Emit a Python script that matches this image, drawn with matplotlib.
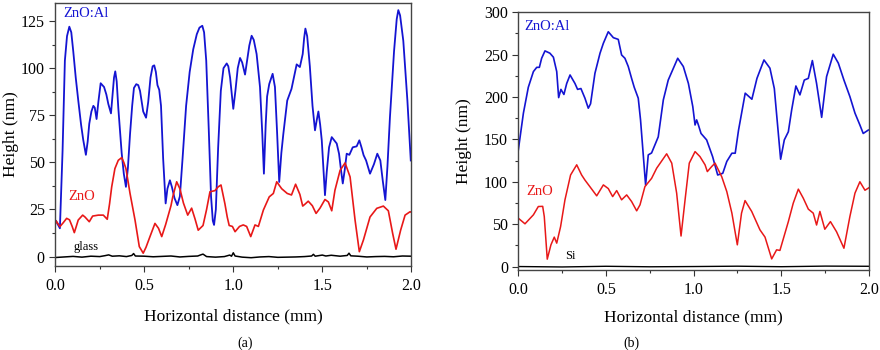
import matplotlib
matplotlib.use('Agg')
import matplotlib.pyplot as plt
from matplotlib.ticker import MultipleLocator

plt.rcParams['font.family'] = ['Liberation Serif', 'DejaVu Serif']

# (a) glass substrate: ZnO:Al, ZnO and bare glass profiles (x in mm, height in nm)
a_zao_x = [0.0, 0.004, 0.026, 0.041, 0.054, 0.066, 0.079, 0.09, 0.101, 0.115, 0.129, 0.145, 0.157,
           0.172, 0.182, 0.191, 0.203, 0.214, 0.222, 0.232, 0.242, 0.255, 0.274, 0.287, 0.298,
           0.313, 0.322, 0.33, 0.337, 0.345, 0.354, 0.373, 0.385, 0.397, 0.408, 0.42, 0.432,
           0.442, 0.455, 0.466, 0.476, 0.494, 0.51, 0.522, 0.535, 0.547, 0.556, 0.565, 0.574,
           0.584, 0.594, 0.606, 0.62, 0.63, 0.644, 0.655, 0.67, 0.686, 0.70, 0.715, 0.735,
           0.755, 0.775, 0.795, 0.81, 0.826, 0.836, 0.848, 0.862, 0.875, 0.885, 0.892, 0.902,
           0.915, 0.93, 0.945, 0.963, 0.972, 0.982, 1.0, 1.012, 1.025, 1.038, 1.05, 1.066,
           1.076, 1.09, 1.103, 1.115, 1.131, 1.15, 1.163, 1.172, 1.182, 1.19, 1.202, 1.221,
           1.234, 1.246, 1.258, 1.27, 1.281, 1.303, 1.327, 1.345, 1.356, 1.374, 1.39, 1.398,
           1.405, 1.415, 1.43, 1.445, 1.459, 1.468, 1.478, 1.488, 1.497, 1.507, 1.515, 1.525,
           1.538, 1.553, 1.581, 1.594, 1.605, 1.615, 1.626, 1.637, 1.652, 1.671, 1.693, 1.708,
           1.72, 1.732, 1.746, 1.768, 1.79, 1.809, 1.826, 1.84, 1.854, 1.866, 1.88, 1.903,
           1.918, 1.927, 1.937, 1.955, 1.978, 1.997]
a_zao_y = [19, 19, 15, 56, 104, 117, 122, 119, 109, 95, 83, 70, 62,
           54, 61, 70.5, 77, 80, 79, 73, 82, 92, 90, 86, 81,
           76, 86, 95, 98.3, 93, 79, 55, 44, 37, 47, 65, 80,
           89.5, 91.5, 91, 88, 77, 73.7, 82, 95, 101, 101.5, 98, 91,
           88.5, 80, 52, 28.2, 36, 40.5, 37, 31, 27.3, 32, 52, 80,
           98, 110, 118, 121.5, 122.5, 119, 104, 68, 32, 19, 16.8, 25,
           58, 88, 100, 102.5, 101, 95, 78.4, 88, 100, 105.4, 103, 96.6,
           103, 112, 117.2, 115, 107.5, 90, 65, 44, 70, 85, 91.6, 97,
           90, 66, 39.6, 55, 65, 82.8, 89, 97, 102, 100.6, 107.5, 116,
           121, 117, 101, 80, 67, 72, 77, 70, 61.7, 45, 32.6, 45,
           58, 63.4, 60, 54.6, 46, 38.8, 46, 54.6, 54, 58, 58.5, 61.7,
           58, 53.8, 51, 44, 49, 54.6, 51, 40, 30, 48, 74, 109,
           126, 130.8, 128, 114.5, 82.8, 51]

a_zno_x = [0.0, 0.004, 0.026, 0.045, 0.064, 0.08, 0.095, 0.107, 0.118, 0.129, 0.154, 0.167, 0.191,
           0.21, 0.242, 0.27, 0.292, 0.305, 0.317, 0.335, 0.354, 0.373, 0.385, 0.397, 0.42,
           0.448, 0.472, 0.494, 0.51, 0.532, 0.56, 0.58, 0.598, 0.62, 0.65, 0.66, 0.682,
           0.70, 0.72, 0.744, 0.766, 0.785, 0.803, 0.83, 0.85, 0.869, 0.897, 0.915, 0.931,
           0.953, 0.966, 0.977, 0.995, 1.01, 1.035, 1.056, 1.075, 1.098, 1.122, 1.141, 1.169,
           1.202, 1.225, 1.244, 1.272, 1.303, 1.327, 1.35, 1.374, 1.39, 1.405, 1.421, 1.444,
           1.465, 1.487, 1.515, 1.534, 1.553, 1.571, 1.6, 1.628, 1.656, 1.684, 1.708, 1.731,
           1.768, 1.806, 1.843, 1.871, 1.895, 1.914, 1.94, 1.965, 1.993, 2.0]
a_zno_y = [17, 19, 15.9, 18, 20.3, 19.5, 16, 12.7, 16, 19.4, 22, 21, 18.5,
           21.5, 22, 22, 19.8, 28, 37, 46.7, 51.1, 52.5, 50, 46.7, 33.5,
           19.4, 5.3, 1.8, 5, 10.6, 17.6, 15, 10.6, 17, 27, 31.7, 39.7,
           36, 28.4, 22, 25.7, 20, 14, 16.5, 25, 34.4, 35, 37, 38,
           28, 21, 16.5, 16, 13.2, 16, 16.8, 16, 10.6, 16.8, 16, 24.7,
           31.7, 33.5, 39.7, 36, 33.5, 32.7, 38.4, 33, 26.8, 28, 29.4, 27,
           22.9, 25.7, 30.3, 29, 24.3, 35.2, 45.8, 49.7, 42.3, 19.4, 2.6, 8.8,
           21, 25.6, 26.8, 24.3, 12.4, 3.9, 14, 22, 23.8, 23.5]

a_glass_x = [0, 0.05, 0.1, 0.15, 0.2, 0.25, 0.28, 0.3, 0.32, 0.36, 0.4, 0.43, 0.44, 0.45, 0.5,
             0.55, 0.6, 0.65, 0.7, 0.75, 0.8, 0.82, 0.83, 0.85, 0.9, 0.95, 0.98, 0.99, 1.0,
             1.01, 1.05, 1.1, 1.15, 1.2, 1.25, 1.3, 1.35, 1.4, 1.44, 1.45, 1.46, 1.5, 1.52,
             1.55, 1.6, 1.64, 1.65, 1.66, 1.7, 1.75, 1.8, 1.85, 1.9, 1.95, 2.0]
a_glass_y = [-0.5, -0.2, 0.1, -0.3, 0.2, 0, 0.5, 0.9, 0.2, 0.4, 0, 0.6, 1.6, 0.3, 0.2,
             -0.1, 0.1, 0.3, -0.2, 0.1, 0.3, 1.0, 1.3, 0, -0.3, 0, 0.8, 0.2, 2.0,
             0.3, -0.3, -0.6, -0.2, 0, -0.4, -0.3, -0.2, 0, 0.3, 1.2, 0.2, 0.8, 0.3,
             0.7, 0.2, 0.6, 1.8, 0.4, 0.2, -0.2, 0, 0.1, -0.1, 0.3, 0.2]

# (b) Si substrate
b_zao_x = [0.0, 0.029, 0.057, 0.086, 0.105, 0.12, 0.133, 0.152, 0.18, 0.2, 0.219, 0.23, 0.243,
           0.26, 0.276, 0.295, 0.323, 0.338, 0.357, 0.38, 0.399, 0.412, 0.437, 0.466, 0.485,
           0.513, 0.542, 0.57, 0.589, 0.608, 0.627, 0.646, 0.661, 0.684, 0.697, 0.726, 0.741,
           0.76, 0.798, 0.827, 0.855, 0.909, 0.941, 0.97, 0.995, 1.008, 1.017, 1.027, 1.042,
           1.074, 1.108, 1.137, 1.166, 1.189, 1.218, 1.237, 1.256, 1.294, 1.332, 1.361, 1.401,
           1.435, 1.46, 1.496, 1.517, 1.54, 1.559, 1.583, 1.606, 1.631, 1.654, 1.677, 1.701,
           1.73, 1.758, 1.796, 1.825, 1.857, 1.891, 1.92, 1.948, 1.967, 1.996]
b_zao_y = [137.6, 181, 211.5, 230, 235, 235, 245.7, 254.4, 251.7, 247, 230, 199.3, 209,
           203, 216, 226, 216, 209, 210, 198.6, 186.8, 192, 228, 251.7, 263.4,
           277, 270, 268, 249.6, 245.7, 236, 222, 211.5, 198.6, 173, 96, 131.7,
           134, 153, 196.6, 220, 245.7, 236, 216, 188.7, 167, 173, 167, 157,
           149.4, 129.7, 108, 110, 124, 133.7, 133.7, 161, 204.5, 197.4, 222, 243.7,
           234, 210, 126.6, 149.4, 159, 184.8, 213, 202.5, 220, 222, 243, 216,
           176, 224, 250.5, 240, 220, 200.5, 181, 167, 157, 161]

b_zno_x = [0.0, 0.038, 0.086, 0.114, 0.139, 0.148, 0.165, 0.186, 0.205, 0.219, 0.241, 0.266,
           0.298, 0.333, 0.361, 0.38, 0.409, 0.447, 0.485, 0.513, 0.538, 0.561, 0.589, 0.618,
           0.646, 0.675, 0.694, 0.722, 0.76, 0.789, 0.846, 0.875, 0.903, 0.928, 0.951, 0.975,
           1.008, 1.036, 1.065, 1.078, 1.103, 1.122, 1.16, 1.189, 1.218, 1.249, 1.273, 1.293,
           1.331, 1.378, 1.407, 1.445, 1.473, 1.492, 1.54, 1.568, 1.597, 1.625, 1.654, 1.682,
           1.701, 1.72, 1.748, 1.78, 1.815, 1.857, 1.891, 1.92, 1.948, 1.977, 2.0]
b_zno_y = [57, 50.4, 61, 70.8, 71, 59, 8.7, 25.6, 34.7, 27.6, 47, 78.7,
           108, 120, 108, 102, 94, 83.4, 96.3, 92, 82.5, 89.6, 78.7, 84.5,
           76.7, 65.7, 72.8, 94.3, 104, 116, 133, 122, 86.6, 36, 78.7, 122,
           135.6, 129.7, 120, 112, 118, 122, 106, 88.4, 63, 25.6, 63, 77.8,
           65, 43.3, 34.7, 9, 19.7, 19, 53, 74.8, 91.3, 80.7, 67.7, 63,
           49, 65, 44, 53, 41, 21.6, 59, 86.6, 100, 90, 93]

b_si_x = [0, 0.25, 0.5, 0.75, 1.0, 1.25, 1.5, 1.75, 2.0]
b_si_y = [0, -0.5, 0.3, -0.3, 0, 0.4, -0.2, 0.5, 0.3]

blue = '#1414d2'
red = '#e81818'

fig = plt.figure(figsize=(8.8, 3.5), dpi=100)
ax1 = fig.add_axes([0.0628, 0.24, 0.4046, 0.751])
ax2 = fig.add_axes([0.589, 0.23, 0.3985, 0.735])

ax1.plot(a_zao_x, a_zao_y, color=blue, lw=1.3)
ax1.plot(a_zno_x, a_zno_y, color=red, lw=1.2)
ax1.plot(a_glass_x, a_glass_y, color='black', lw=1.1)
ax1.set_xlim(0, 2.0)
ax1.set_ylim(-5, 134.5)
ax1.yaxis.set_major_locator(MultipleLocator(25))
ax1.yaxis.set_minor_locator(MultipleLocator(12.5))
ax1.text(0.043, 128.8, 'ZnO:Al', color=blue, fontsize=10.5, va='center')
ax1.text(0.072, 31.7, 'ZnO', color=red, fontsize=10.5, va='center')
ax1.text(0.1, 5.2, 'glass', color='black', fontsize=9, va='center')
ax1.set_ylabel('Height (nm)', fontsize=12.5)
ax1.yaxis.set_label_coords(-0.102, 0.5)
ax1.xaxis.set_label_coords(0.5, -0.163)

ax2.plot(b_zao_x, b_zao_y, color=blue, lw=1.2)
ax2.plot(b_zno_x, b_zno_y, color=red, lw=1.1)
ax2.plot(b_si_x, b_si_y, color='black', lw=1.0)
ax2.set_xlim(0, 2.0)
ax2.set_ylim(-3.5, 300)
ax2.yaxis.set_major_locator(MultipleLocator(50))
ax2.yaxis.set_minor_locator(MultipleLocator(25))
ax2.text(0.033, 283, 'ZnO:Al', color=blue, fontsize=10.5, va='center')
ax2.text(0.045, 89, 'ZnO', color=red, fontsize=10.5, va='center')
ax2.text(0.267, 12.6, 'Si', color='black', fontsize=9, va='center')
ax2.set_ylabel('Height (nm)', fontsize=12.5)
ax2.yaxis.set_label_coords(-0.132, 0.5)
ax2.xaxis.set_label_coords(0.5, -0.154)

for ax in (ax1, ax2):
    ax.xaxis.set_major_locator(MultipleLocator(0.5))
    ax.xaxis.set_minor_locator(MultipleLocator(0.25))
    ax.xaxis.set_major_formatter(matplotlib.ticker.FormatStrFormatter('%.1f'))
    ax.set_xlabel('Horizontal distance (mm)', fontsize=12.5)
    ax.tick_params(which='major', direction='out', length=4, width=0.8, labelsize=11.5, color='#333333')
    ax.tick_params(which='minor', direction='out', length=2.2, width=0.8, color='#333333')
    ax.tick_params(axis='x', pad=5)
    for s in ax.spines.values():
        s.set_color('#444444')
        s.set_linewidth(1.0)

fig.text(0.278, 0.02, '(a)', fontsize=10, ha='center', va='center')
fig.text(0.718, 0.02, '(b)', fontsize=10, ha='center', va='center')

fig.savefig('out.png', dpi=100)
